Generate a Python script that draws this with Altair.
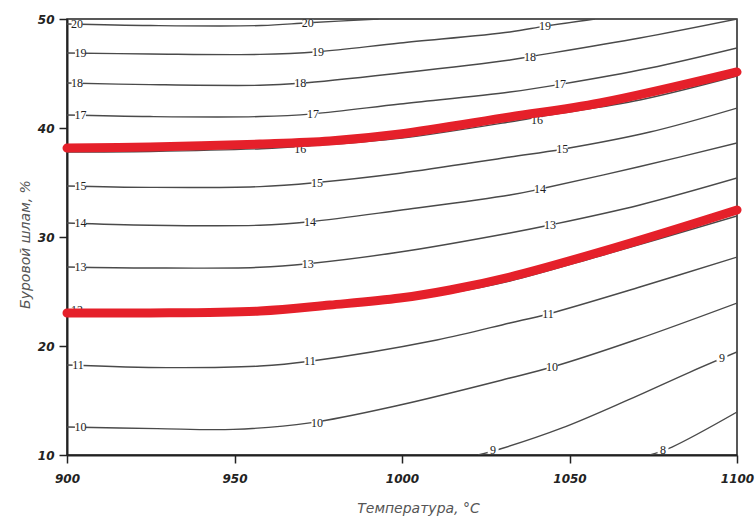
import altair as alt
import pandas as pd

# ---- contour lines (Температура, Буровой шлам) ----
c20_x = [900, 925, 958, 972, 993]
c20_y = [49.54, 49.40, 49.40, 49.65, 50.0]
c19_x = [900, 924.8, 957.6, 974.9, 999.4, 1032.2, 1042.7, 1057.6]
c19_y = [46.88, 46.79, 46.75, 47.00, 47.80, 48.81, 49.35, 50.0]
c18_x = [900, 924.8, 957.6, 969.6, 999.4, 1032.2, 1038.2, 1071.0, 1100]
c18_y = [44.13, 43.98, 43.92, 44.10, 45.04, 46.24, 46.55, 48.26, 50.0]
c17_x = [900, 924.8, 957.6, 973.4, 999.4, 1032.2, 1047.2, 1074.0, 1100]
c17_y = [41.19, 41.05, 41.05, 41.30, 42.20, 43.30, 44.00, 45.50, 47.34]
c16_x = [900, 925, 958, 972, 1000, 1032, 1044, 1071, 1100]
c16_y = [37.80, 37.85, 38.10, 38.35, 39.08, 40.55, 41.19, 42.57, 44.77]
c15_x = [900, 924.8, 957.6, 974.6, 999.4, 1032.2, 1047.8, 1074.0, 1100]
c15_y = [34.68, 34.55, 34.62, 35.00, 35.85, 37.34, 38.05, 39.63, 41.83]
c14_x = [900, 924.8, 957.6, 972.5, 999.4, 1032.2, 1041.2, 1070.4, 1100]
c14_y = [31.28, 31.08, 31.08, 31.40, 32.45, 33.85, 34.40, 36.42, 38.62]
c13_x = [900, 924.8, 957.6, 971.9, 999.4, 1032.2, 1044.2, 1071.0, 1100]
c13_y = [27.25, 27.16, 27.22, 27.55, 28.62, 30.37, 31.10, 32.94, 35.41]
c12_x = [900, 924.8, 957.6, 978.5, 999.4, 1014.3, 1032.2, 1059.1, 1100]
c12_y = [23.21, 23.12, 23.12, 23.58, 24.22, 24.86, 25.96, 28.26, 31.93]
c11_x = [900, 929.9, 957.6, 972.5, 1010.4, 1032.2, 1043.6, 1071.0, 1100]
c11_y = [18.26, 18.02, 18.16, 18.60, 20.55, 22.11, 22.94, 25.41, 28.16]
c10_x = [900, 926.9, 949.6, 972.5, 999.4, 1032.2, 1044.8, 1069.6, 1100]
c10_y = [12.57, 12.42, 12.35, 12.95, 14.59, 17.06, 18.07, 20.55, 23.94]
c9_x = [1022.7, 1029.3, 1047.8, 1067.5, 1086.0, 1100]
c9_y = [10.0, 10.55, 12.48, 15.05, 17.61, 19.45]
c8_x = [1074.0, 1080.6, 1100]
c8_y = [10.0, 10.73, 13.94]

# ---- two highlighted (red) curves ----
red_upper_x = [900, 924.8, 957.6, 978.5, 999.4, 1032.2, 1059.1, 1100]
red_upper_y = [38.16, 38.26, 38.53, 38.81, 39.45, 41.01, 42.29, 45.14]
red_lower_x = [900, 924.8, 957.6, 978.5, 999.4, 1014.3, 1032.2, 1059.1, 1100]
red_lower_y = [23.03, 23.03, 23.21, 23.76, 24.40, 25.14, 26.33, 28.62, 32.48]

# ---- contour labels ----
label_text = ["20", "20", "19", "19", "19", "18", "18", "18", "17", "17", "17",
              "16", "16", "15", "15", "15", "14", "14", "14", "13", "13", "13",
              "12", "11", "11", "11", "10", "10", "10", "9", "9", "8"]
label_x = [903, 971.9, 904, 974.9, 1042.7, 903, 969.6, 1038.2, 904, 973.4, 1047.2,
           969.6, 1040.3, 904, 974.6, 1047.8, 904, 972.5, 1041.2, 904, 971.9, 1044.2,
           903, 903.3, 972.5, 1043.6, 904, 974.6, 1044.8, 1027.2, 1095.5, 1077.9]
label_y = [49.54, 49.65, 46.88, 47.00, 49.35, 44.13, 44.10, 46.55, 41.19, 41.30, 44.00,
           38.1, 40.7, 34.68, 35.00, 38.05, 31.28, 31.40, 34.40, 27.25, 27.55, 31.10,
           23.3, 18.26, 18.60, 22.90, 12.57, 12.95, 18.07, 10.46, 18.9, 10.46]

x_ticks = [900, 950, 1000, 1050, 1100]
y_ticks = [10, 20, 30, 40, 50]

contours = {
    20: (c20_x, c20_y), 19: (c19_x, c19_y), 18: (c18_x, c18_y), 17: (c17_x, c17_y),
    16: (c16_x, c16_y), 15: (c15_x, c15_y), 14: (c14_x, c14_y), 13: (c13_x, c13_y),
    12: (c12_x, c12_y), 11: (c11_x, c11_y), 10: (c10_x, c10_y), 9: (c9_x, c9_y),
    8: (c8_x, c8_y),
}
rows = []
for lvl, (xs, ys) in contours.items():
    for i, (a, b) in enumerate(zip(xs, ys)):
        rows.append({"level": lvl, "i": i, "t": a, "s": b})
cdf = pd.DataFrame(rows)

rrows = []
for name, xs, ys in [("upper", red_upper_x, red_upper_y), ("lower", red_lower_x, red_lower_y)]:
    for i, (a, b) in enumerate(zip(xs, ys)):
        rrows.append({"curve": name, "i": i, "t": a, "s": b})
rdf = pd.DataFrame(rrows)

ldf = pd.DataFrame({"t": label_x, "s": label_y, "txt": label_text})

xscale = alt.Scale(domain=[900, 1100], nice=False, zero=False)
yscale = alt.Scale(domain=[10, 50], nice=False, zero=False)

xaxis = alt.Axis(values=x_ticks, title="Температура, °C", grid=False, format="d",
                 labelFlush=False,
                 labelFont="DejaVu Sans", labelFontSize=12, labelFontWeight="bold",
                 labelFontStyle="italic", labelColor="#222", labelPadding=10,
                 tickSize=8, tickColor="#222", tickWidth=1.5,
                 domainColor="#222", domainWidth=2,
                 titleFont="DejaVu Sans", titleFontSize=14, titleFontStyle="italic",
                 titleFontWeight="normal", titleColor="#555",
                 titleX=351, titleY=46, titleBaseline="top")
yaxis = alt.Axis(values=y_ticks, title="Буровой шлам, %", grid=False, format="d",
                 labelFlush=False,
                 labelFont="DejaVu Sans", labelFontSize=12, labelFontWeight="bold",
                 labelFontStyle="italic", labelColor="#222", labelPadding=5,
                 tickSize=8, tickColor="#222", tickWidth=1.5,
                 domainColor="#222", domainWidth=2,
                 titleFont="DejaVu Sans", titleFontSize=14, titleFontStyle="italic",
                 titleFontWeight="normal", titleColor="#555",
                 titleX=-35, titleY=225)

base_x = alt.X("t:Q", scale=xscale, axis=xaxis)
base_y = alt.Y("s:Q", scale=yscale, axis=yaxis)

lines = alt.Chart(cdf).mark_line(color="#4a4a4a", strokeWidth=1.4, clip=True,
                                 interpolate="catmull-rom").encode(
    x=base_x, y=base_y, detail="level:N", order="i:Q")

label_bg = alt.Chart(ldf).mark_point(
    shape="M-1,-0.55L1,-0.55L1,0.55L-1,0.55Z", filled=True, fill="white",
    opacity=1, size=120, strokeWidth=0, clip=True).encode(
    x=alt.X("t:Q", scale=xscale), y=alt.Y("s:Q", scale=yscale))

labels = alt.Chart(ldf).mark_text(font="Liberation Serif", fontSize=12, color="#222",
                                  clip=True).encode(
    x=alt.X("t:Q", scale=xscale), y=alt.Y("s:Q", scale=yscale), text="txt:N")

red = alt.Chart(rdf).mark_line(color="#e5202a", strokeWidth=9, strokeCap="round",
                               interpolate="catmull-rom").encode(
    x=alt.X("t:Q", scale=xscale), y=alt.Y("s:Q", scale=yscale),
    detail="curve:N", order="i:Q")

chart = alt.layer(lines, label_bg, labels, red).properties(
    width=670, height=436,
    autosize=alt.AutoSizeParams(type="none"),
    padding={"left": 67, "top": 19, "right": 18, "bottom": 66},
    background="white",
).configure_view(stroke="#222", strokeWidth=1.5)

chart.save("out.html", embed_options={"renderer": "svg", "actions": False})
